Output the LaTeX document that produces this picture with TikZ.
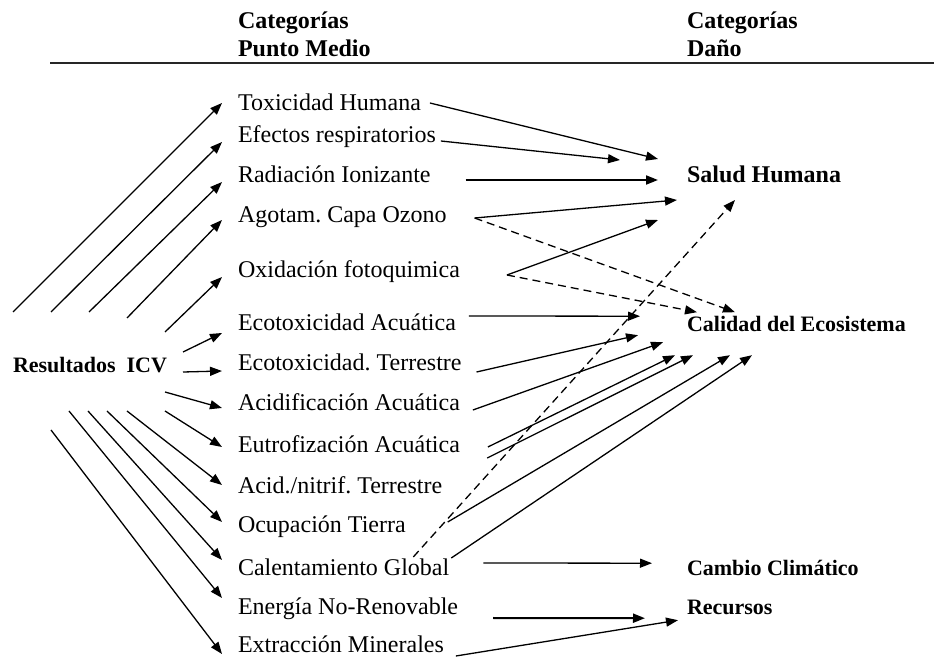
\documentclass[tikz,border=0pt]{standalone}
\usepackage{fontspec}
\setmainfont{Liberation Serif}
\usetikzlibrary{arrows.meta}
\frenchspacing

\begin{document}
\begin{tikzpicture}[
    x=0.5pt, y=-0.5pt,
    lbl/.style={anchor=base west, inner sep=0pt, outer sep=0pt, text height=8pt,
                text depth=0pt, font=\fontsize{12}{14}\selectfont},
    head/.style={lbl, font=\bfseries\fontsize{12}{14}\selectfont},
    cat/.style={lbl, text height=7.3pt, font=\bfseries\fontsize{11}{13}\selectfont},
    arrow/.style={-{Triangle[length=6pt,width=4.5pt]}, line width=0.65pt},
    thickarrow/.style={arrow, line width=1pt},
    dasharrow/.style={arrow, dash pattern=on 4pt off 2.5pt}
  ]
    \useasboundingbox (0,0) rectangle (934,658);
    \node[head] (hmid) at (238,29) {Categorías};
    \node[head] (hmid2) at (238,57) {Punto Medio};
    \node[head] (hdmg) at (687,29) {Categorías};
    \node[head] (hdmg2) at (687,57) {Daño};
    \draw[line width=1.2pt, black!85] (50,63) -- (934,63);

    \node[cat, text height=7pt] (icv) at (13,372) {Resultados~~ICV};
    \foreach \n/\y/\t in {tox/111/Toxicidad Humana, efe/143/Efectos respiratorios,
        rad/183/Radiación Ionizante, ago/223/Agotam. Capa Ozono,
        oxi/278/Oxidación fotoquimica, eca/331/Ecotoxicidad Acuática,
        ect/371/Ecotoxicidad. Terrestre, aci/411/Acidificación Acuática,
        eut/453/Eutrofización Acuática, acn/494/{Acid./nitrif. Terrestre},
        ocu/533/Ocupación Tierra, cal/575/Calentamiento Global,
        ene/615/Energía No-Renovable, ext/653/Extracción Minerales}
      \node[lbl] (\n) at (238,\y) {\t};

    \node[head] (salud) at (687,183) {Salud Humana};
    \node[cat] (calidad) at (687,332) {Calidad del Ecosistema};
    \node[cat] (cambio) at (687,575) {Cambio Climático};
    \node[cat] (recursos) at (687,615) {Recursos};

    \foreach \i/\x/\y in {1/13/312, 2/51/312, 3/89/312, 4/127/318, 5/165/332,
        6/183/352, 7/183/372, 8/165/392, 9/165/411, 10/127/411, 11/107/411,
        12/88/411, 13/69/411, 14/51/430}
      \coordinate (s\i) at (\x,\y);
    \foreach \i/\b/\d in {1/tox/0, 2/efe/7, 3/rad/7, 4/ago/5, 5/oxi/7, 6/eca/10,
        7/ect/8, 8/aci/5, 9/eut/2, 10/acn/-1, 11/ocu/-3, 12/cal/-7, 13/ene/-9, 14/ext/9}
      \draw[arrow] (s\i) -- ([shift={(-16,\d)}]\b.west);

    \foreach \a/\sx/\sy/\b/\ex/\ey in {tox/9/0/salud/-29/-16, efe/5/6/salud/-67/-15,
        ago/28/3/salud/-10/25, oxi/47/5/salud/-29/45, eca/13/-7/calidad/-47/-8.5,
        ect/15/9/calidad/-49/10.5, aci/13/7/calidad/-24/17.5, eut/28/2/calidad/-12/30.5,
        acn/45/-28/calidad/6/30.5, ocu/42/-3/calidad/43/30.5, cal/2/-9/calidad/65/30.5,
        cal/34/-4/cambio/-35/-4.5, ext/12/11/recursos/-9/12.5}
      \draw[arrow] ([shift={(\sx,\sy)}]\a.east) -- ([shift={(\ex,\ey)}]\b.west);
    \foreach \a/\sx/\sy/\b/\ex/\ey in {rad/35/5/salud/-29/5, ene/35/11/recursos/-42/10.5}
      \draw[thickarrow] ([shift={(\sx,\sy)}]\a.east) -- ([shift={(\ex,\ey)}]\b.west);
    \foreach \a/\sx/\sy/\b/\ex/\ey in {ago/28/3/calidad/48/-12.5, oxi/47/5/calidad/10/-12.5,
        cal/-36/-10/salud/48/25}
      \draw[dasharrow] ([shift={(\sx,\sy)}]\a.east) -- ([shift={(\ex,\ey)}]\b.west);
  \end{tikzpicture}
\end{document}
